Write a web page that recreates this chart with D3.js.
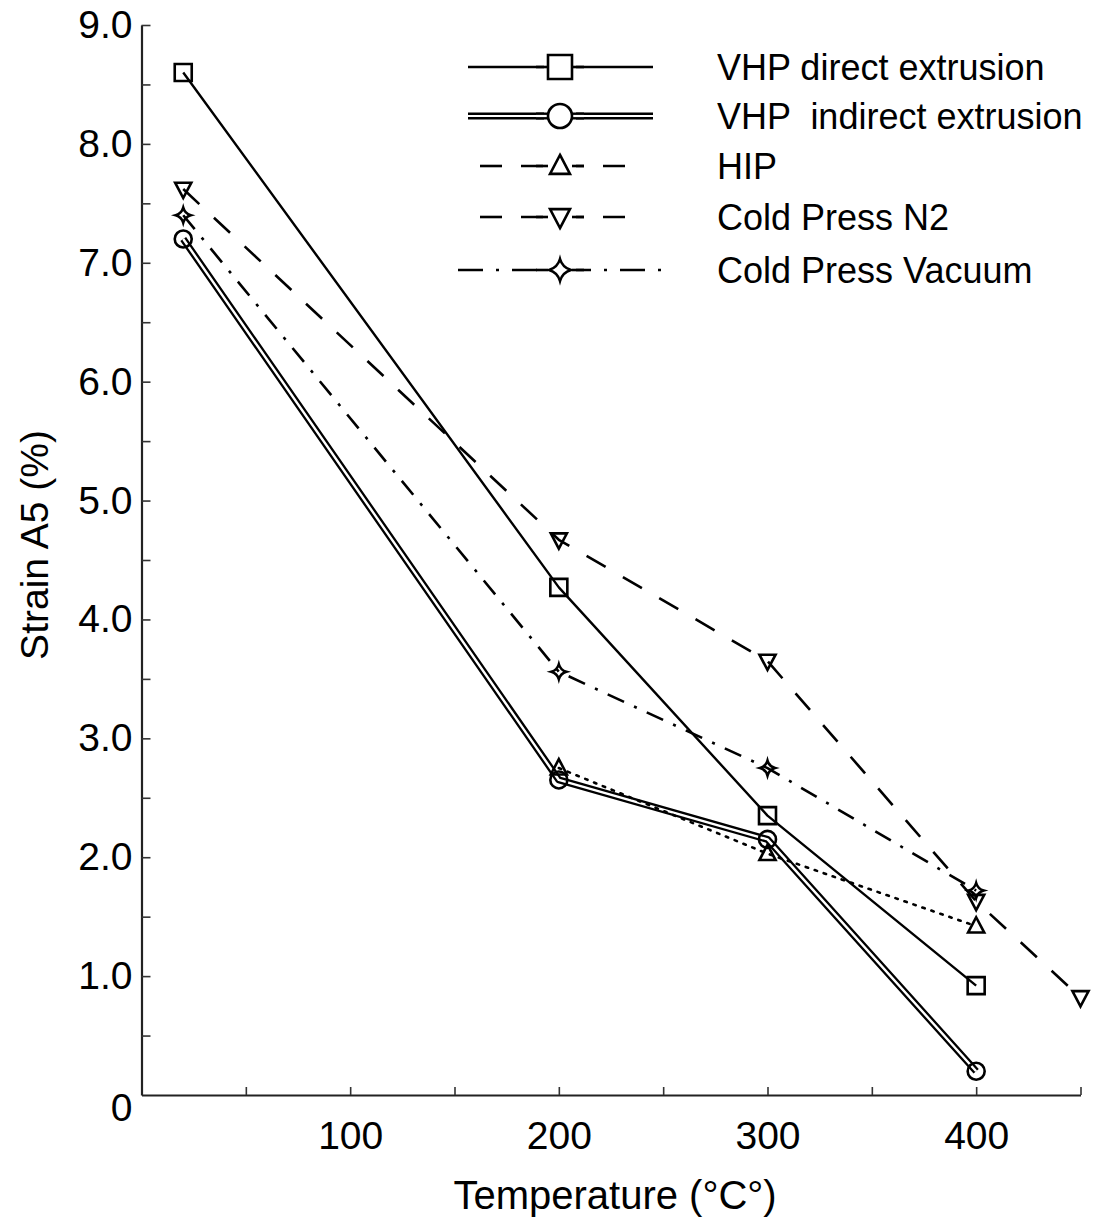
<!DOCTYPE html>
<html>
<head>
<meta charset="utf-8">
<script src="https://cdn.jsdelivr.net/npm/d3@7"></script>
<style>
  html, body { margin: 0; padding: 0; background: #fff; }
  svg { display: block; font-family: "Liberation Sans", Arial, Helvetica, sans-serif; }
</style>
</head>
<body>
<svg id="chart" width="1093" height="1220"></svg>
<script>
// Elongation (strain A5) versus test temperature for five processing routes
const tempDirect   = [20, 200, 300, 400];
const strainDirect = [8.6, 4.27, 2.35, 0.92];

const tempIndirect   = [20, 200, 300, 400];
const strainIndirect = [7.2, 2.65, 2.15, 0.2];

const tempHip   = [200, 300, 400];
const strainHip = [2.75, 2.03, 1.42];

const tempN2   = [20, 200, 300, 400, 450];
const strainN2 = [7.62, 4.67, 3.65, 1.63, 0.82];

const tempVacuum   = [20, 200, 300, 400];
const strainVacuum = [7.4, 3.56, 2.75, 1.72];

const seriesNames = ["VHP direct extrusion", "VHP  indirect extrusion", "HIP", "Cold Press N2", "Cold Press Vacuum"];

const xTickValues = [50, 100, 150, 200, 250, 300, 350, 400, 450];
const xTickLabels = [100, 200, 300, 400];
const yTickValues = d3.range(0, 9.01, 0.5);

const svg = d3.select("#chart");

const x = d3.scaleLinear().domain([0, 450]).range([141.5, 1080.5]);
const y = d3.scaleLinear().domain([0, 9]).range([1095, 25]);

// axes (ticks point inward)
const xAxis = d3.axisBottom(x)
  .tickValues(xTickValues)
  .tickSize(-8)
  .tickSizeOuter(0)
  .tickPadding(26)
  .tickFormat(d => xTickLabels.includes(d) ? String(d) : "");

const yAxis = d3.axisLeft(y)
  .tickValues(yTickValues)
  .tickSize(-9)
  .tickSizeOuter(0)
  .tickPadding(9)
  .tickFormat(d => d === 0 ? "0" : (Number.isInteger(d) ? d.toFixed(1) : ""));

const gx = svg.append("g").attr("transform", `translate(0,${y(0)})`).call(xAxis);
const gy = svg.append("g").attr("transform", `translate(${x(0)},0)`).call(yAxis);

[gx, gy].forEach(g => {
  g.select(".domain").attr("stroke", "#222").attr("stroke-width", 2.2);
  g.selectAll(".tick line").attr("stroke", "#333").attr("stroke-width", 1.6);
  g.selectAll(".tick text").attr("fill", "#000").attr("font-size", 39)
    .attr("font-family", "'Liberation Sans', Arial, sans-serif");
});
gx.selectAll(".tick").filter(d => d === 0).select("line").remove();
gy.selectAll(".tick").filter(d => d === 0).select("line").remove();
gy.selectAll(".tick").filter(d => d === 0).select("text").attr("dy", "0.32em").attr("y", 13);

// axis titles
svg.append("text")
  .attr("x", 615)
  .attr("y", 1209)
  .attr("text-anchor", "middle")
  .attr("font-size", 40)
  .text("Temperature (°C°)");

svg.append("text")
  .attr("transform", `translate(48,${545}) rotate(-90)`)
  .attr("text-anchor", "middle")
  .attr("font-size", 39)
  .text("Strain A5 (%)");

// marker shapes
function markerPath(kind, s) {
  const h = s / 2;
  if (kind === "square") return `M${-h},${-h}H${h}V${h}H${-h}Z`;
  if (kind === "up") return `M0,${-h * 1.05}L${h * 0.95},${h * 0.75}L${-h * 0.95},${h * 0.75}Z`;
  if (kind === "down") return `M0,${h * 1.05}L${h * 0.95},${-h * 0.75}L${-h * 0.95},${-h * 0.75}Z`;
  if (kind === "star") {
    const c = h * 0.22;
    return `M0,${-h}Q${c},${-c} ${h},0Q${c},${c} 0,${h}Q${-c},${c} ${-h},0Q${-c},${-c} 0,${-h}Z`;
  }
  return null;
}

function drawMarker(g, kind, cx, cy, s, fill) {
  if (kind === "circle") {
    g.append("circle").attr("cx", cx).attr("cy", cy).attr("r", s / 2)
      .attr("fill", fill).attr("stroke", "#000").attr("stroke-width", 2.6);
  } else {
    g.append("path").attr("d", markerPath(kind, s))
      .attr("transform", `translate(${cx},${cy})`)
      .attr("fill", fill).attr("stroke", "#000").attr("stroke-width", 2.6)
      .attr("stroke-linejoin", "miter");
  }
}

const line = d3.line().x(d => x(d[0])).y(d => y(d[1]));

const series = [
  { temps: tempDirect,   vals: strainDirect,   marker: "square", size: 17, dash: null,          width: 2.4, dbl: false },
  { temps: tempIndirect, vals: strainIndirect, marker: "circle", size: 17, dash: null,          width: 7,   dbl: true  },
  { temps: tempHip,      vals: strainHip,      marker: "up",     size: 17, dash: "2.5,7",       width: 2.6, dbl: false, cap: "round" },
  { temps: tempN2,       vals: strainN2,       marker: "down",   size: 17, dash: "22,20",       width: 2.6, dbl: false },
  { temps: tempVacuum,   vals: strainVacuum,   marker: "star",   size: 15, dash: "18,11,3,11",  width: 2.6, dbl: false }
];

const plot = svg.append("g");

series.forEach(s => {
  const pts = s.temps.map((t, i) => [t, s.vals[i]]);
  plot.append("path").datum(pts).attr("d", line)
    .attr("fill", "none").attr("stroke", "#000")
    .attr("stroke-width", s.width)
    .attr("stroke-dasharray", s.dash)
    .attr("stroke-linecap", s.cap || "butt")
    .attr("stroke-linejoin", "round");
  if (s.dbl) {
    plot.append("path").datum(pts).attr("d", line)
      .attr("fill", "none").attr("stroke", "#fff")
      .attr("stroke-width", 2.4)
      .attr("stroke-linejoin", "round");
  }
});

series.forEach(s => {
  s.temps.forEach((t, i) => drawMarker(plot, s.marker, x(t), y(s.vals[i]), s.size, "none"));
});

// legend
const legend = svg.append("g");
const legendY = [67, 116, 166, 217, 270];
const legendDash = [null, null, "22,19", "22,19", "25,13,3,13"];
const legendX0 = [468, 468, 480, 480, 458];
const legendX1 = [653, 653, 643, 643, 662];
const legendMarkerSize = [24, 24, 21, 21, 22];

series.forEach((s, i) => {
  const ly = legendY[i];
  legend.append("line")
    .attr("x1", legendX0[i]).attr("x2", legendX1[i])
    .attr("y1", ly).attr("y2", ly)
    .attr("stroke", "#000").attr("stroke-width", s.dbl ? 7 : 2.6)
    .attr("stroke-dasharray", legendDash[i]);
  if (s.dbl) {
    legend.append("line")
      .attr("x1", legendX0[i]).attr("x2", legendX1[i])
      .attr("y1", ly).attr("y2", ly)
      .attr("stroke", "#fff").attr("stroke-width", 2.2);
  }
  // clear the line behind the marker, then draw the short solid stubs either side
  legend.append("rect").attr("x", 544).attr("y", ly - 14).attr("width", 32).attr("height", 28)
    .attr("fill", "#fff");
  legend.append("line").attr("x1", 536).attr("x2", 548).attr("y1", ly).attr("y2", ly)
    .attr("stroke", "#000").attr("stroke-width", s.dbl ? 7 : 2.6);
  legend.append("line").attr("x1", 572).attr("x2", 584).attr("y1", ly).attr("y2", ly)
    .attr("stroke", "#000").attr("stroke-width", s.dbl ? 7 : 2.6);
  if (s.dbl) {
    legend.append("line").attr("x1", 536).attr("x2", 548).attr("y1", ly).attr("y2", ly)
      .attr("stroke", "#fff").attr("stroke-width", 2.2);
    legend.append("line").attr("x1", 572).attr("x2", 584).attr("y1", ly).attr("y2", ly)
      .attr("stroke", "#fff").attr("stroke-width", 2.2);
  }
  drawMarker(legend, s.marker, 560, ly, legendMarkerSize[i], "#fff");
  legend.append("text")
    .attr("x", 717).attr("y", ly).attr("dy", "0.35em")
    .attr("font-size", 36)
    .attr("xml:space", "preserve")
    .style("white-space", "pre")
    .text(seriesNames[i]);
});
</script>
</body>
</html>
